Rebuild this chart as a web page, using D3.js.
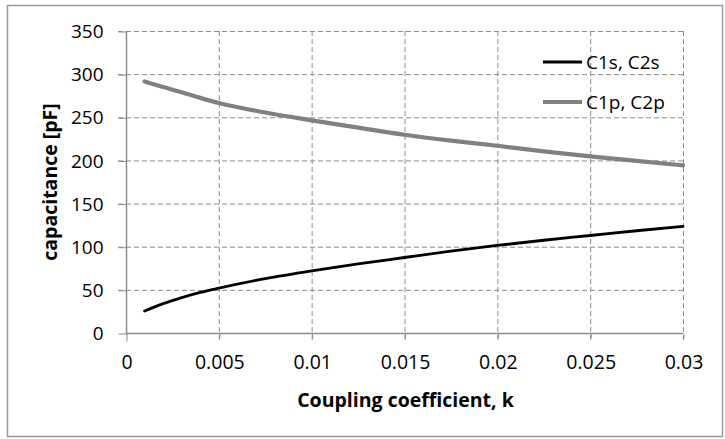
<!DOCTYPE html>
<html>
<head>
<meta charset="utf-8">
<script src="https://cdn.jsdelivr.net/npm/d3@7"></script>
<style>
  body { margin: 0; background: #fff; }
  text { font-family: "Open Sans", "Noto Sans", sans-serif; fill: #000; }
</style>
</head>
<body>
<div id="chart"></div>
<script>
// coupling coefficient k
var kValues = [0.001, 0.002, 0.003, 0.004, 0.005, 0.0075, 0.01, 0.0125, 0.015, 0.0175, 0.02, 0.0225, 0.025, 0.0275, 0.03];
// series capacitances [pF]
var c1s = [25.5, 34, 41, 47, 52, 63, 72, 80, 87.5, 95, 101.5, 107.5, 113, 118.5, 123.5];
var c1p = [291.5, 285, 279, 272.5, 266.5, 255.5, 246.5, 238, 229.8, 223, 217, 210.5, 204.7, 199.5, 194.3];
var seriesNames = ["C1s, C2s", "C1p, C2p"];
var xTicks = [0, 0.005, 0.01, 0.015, 0.02, 0.025, 0.03];
var yTicks = [0, 50, 100, 150, 200, 250, 300, 350];

var width = 725, height = 439;
var plotLeft = 126, plotRight = 683, plotTop = 31, plotBottom = 333;

var svg = d3.select("#chart").append("svg")
    .attr("width", width)
    .attr("height", height);

// outer chart border
svg.append("rect")
    .attr("x", 7.5).attr("y", 5.5)
    .attr("width", 715).attr("height", 431)
    .attr("fill", "#fff")
    .attr("stroke", "#9a9a9a")
    .attr("stroke-width", 1.5);

var x = d3.scaleLinear().domain([0, 0.03]).range([plotLeft, plotRight]);
var y = d3.scaleLinear().domain([0, 350]).range([plotBottom, plotTop]);

var gridColor = "#8c8c8c";

// horizontal grid (dashed)
svg.append("g").selectAll("line")
    .data(yTicks.filter(function (d) { return d > 0; }))
    .enter().append("line")
    .attr("x1", plotLeft - 8).attr("x2", plotRight)
    .attr("y1", function (d) { return y(d) + 0.5; })
    .attr("y2", function (d) { return y(d) + 0.5; })
    .attr("stroke", gridColor)
    .attr("stroke-width", 1)
    .attr("stroke-dasharray", "5,3");

// vertical grid (dashed)
svg.append("g").selectAll("line")
    .data(xTicks.filter(function (d) { return d > 0; }))
    .enter().append("line")
    .attr("x1", function (d) { return x(d) + 0.5; })
    .attr("x2", function (d) { return x(d) + 0.5; })
    .attr("y1", plotTop).attr("y2", plotBottom + 8)
    .attr("stroke", gridColor)
    .attr("stroke-width", 1)
    .attr("stroke-dasharray", "5,3");

// y axis
var yAxis = d3.axisLeft(y).tickValues(yTicks).tickSize(8).tickPadding(15);
var gy = svg.append("g")
    .attr("transform", "translate(" + (plotLeft + 0.5) + ",0.5)")
    .call(yAxis);
gy.select(".domain").attr("stroke", gridColor).attr("stroke-width", 1.5)
    .attr("d", "M0," + (plotTop - 0.5) + "V" + (plotBottom - 0.5));
gy.selectAll(".tick line").attr("stroke", gridColor);
gy.selectAll(".tick text").style("font-size", "19px").attr("font-family", null);

// x axis
var xAxis = d3.axisBottom(x).tickValues(xTicks).tickSize(8).tickPadding(14)
    .tickFormat(function (d) { return d === 0 ? "0" : String(+d.toFixed(3)); });
var gx = svg.append("g")
    .attr("transform", "translate(0.5," + (plotBottom + 0.5) + ")")
    .call(xAxis);
gx.select(".domain").attr("stroke", gridColor).attr("stroke-width", 1.5)
    .attr("d", "M" + (plotLeft - 0.5) + ",0H" + (plotRight - 0.5));
gx.selectAll(".tick line").attr("stroke", gridColor)
    .attr("stroke-dasharray", function (d) { return d > 0 ? "5,3" : null; });
gx.selectAll(".tick text").style("font-size", "19.5px").attr("font-family", null);

// axis titles
svg.append("text")
    .attr("x", (plotLeft + plotRight) / 2 + 1)
    .attr("y", 407)
    .attr("text-anchor", "middle")
    .style("font-size", "19.5px")
    .style("font-weight", "bold")
    .text("Coupling coefficient, k");

svg.append("text")
    .attr("transform", "translate(57," + ((plotTop + plotBottom) / 2) + ") rotate(-90)")
    .attr("text-anchor", "middle")
    .style("font-size", "19.5px")
    .style("font-weight", "bold")
    .text("capacitance [pF]");

// lines
var line = d3.line()
    .x(function (d) { return x(d[0]); })
    .y(function (d) { return y(d[1]); })
    .curve(d3.curveMonotoneX);

var series = [
    { name: seriesNames[0], values: c1s, color: "#000000", width: 2.8 },
    { name: seriesNames[1], values: c1p, color: "#808080", width: 4.2 }
];

svg.selectAll(".series")
    .data(series)
    .enter().append("path")
    .attr("class", "series")
    .attr("fill", "none")
    .attr("stroke", function (d) { return d.color; })
    .attr("stroke-width", function (d) { return d.width; })
    .attr("stroke-linecap", "round")
    .attr("d", function (d) { return line(kValues.map(function (k, i) { return [k, d.values[i]]; })); });

// legend
var legend = svg.selectAll(".legend")
    .data(series)
    .enter().append("g")
    .attr("class", "legend")
    .attr("transform", function (d, i) { return "translate(543," + (62 + i * 40) + ")"; });

legend.append("line")
    .attr("x1", 0).attr("x2", 39)
    .attr("stroke", function (d) { return d.color; })
    .attr("stroke-width", function (d) { return d.width; });

legend.append("text")
    .attr("x", 43)
    .attr("dy", "0.35em")
    .style("font-size", "19px")
    .text(function (d) { return d.name; });
</script>
</body>
</html>
